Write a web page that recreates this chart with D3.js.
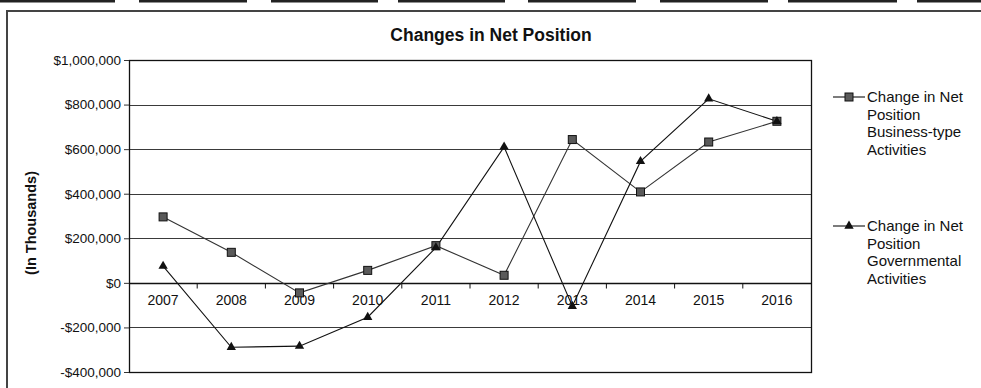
<!DOCTYPE html>
<html>
<head>
<meta charset="utf-8">
<script src="https://cdn.jsdelivr.net/npm/d3@7"></script>
<style>
  html, body { margin: 0; padding: 0; background: #fff; }
  svg { display: block; font-family: Arial, "Liberation Sans", sans-serif; }
</style>
</head>
<body>
<svg id="chart" width="981" height="388"></svg>
<script>
// Fiscal years on the category axis
const years = ["2007", "2008", "2009", "2010", "2011", "2012", "2013", "2014", "2015", "2016"];

// Change in net position, in thousands of dollars
const businessType = [296000, 137000, -45000, 56000, 167000, 34000, 643000, 408000, 632000, 725000];
const governmental = [75000, -289000, -284000, -154000, 158000, 610000, -105000, 545000, 826000, 725000];

// Value axis ticks
const yTicks = [1000000, 800000, 600000, 400000, 200000, 0, -200000, -400000];

const seriesNames = [
  ["Change in Net", "Position", "Business-type", "Activities"],
  ["Change in Net", "Position", "Governmental", "Activities"]
];

const svg = d3.select("#chart");
const plot = { left: 129, right: 811, top: 60, bottom: 372 };

const x = d3.scaleBand().domain(years).range([plot.left, plot.right]);
const y = d3.scaleLinear().domain([-400000, 1000000]).range([plot.bottom, plot.top]);

// Page rules left over from the table above the chart
const ruleSegs = [[0, 115], [139, 247], [271, 378], [398, 505], [528, 636], [660, 768], [788, 897], [917, 981]];
svg.append("g").selectAll("rect").data(ruleSegs).join("rect")
  .attr("x", d => d[0]).attr("y", 0)
  .attr("width", d => d[1] - d[0]).attr("height", 2.5)
  .attr("fill", "#222");

// Outer chart frame
svg.append("path")
  .attr("d", "M7,400 L7,11 L990,11")
  .attr("fill", "none").attr("stroke", "#444").attr("stroke-width", 2);

// Title
svg.append("text")
  .attr("x", 491).attr("y", 41)
  .attr("text-anchor", "middle")
  .attr("font-size", 17.5).attr("font-weight", "bold")
  .attr("fill", "#111")
  .text("Changes in Net Position");

// Horizontal gridlines
svg.append("g").selectAll("line")
  .data(yTicks.filter(v => v !== 0 && v !== 1000000 && v !== -400000))
  .join("line")
  .attr("x1", plot.left).attr("x2", plot.right)
  .attr("y1", d => Math.round(y(d)) + 0.5).attr("y2", d => Math.round(y(d)) + 0.5)
  .attr("stroke", "#3a3a3a").attr("stroke-width", 1);

// Plot area border
svg.append("rect")
  .attr("x", plot.left + 0.5).attr("y", plot.top + 0.5)
  .attr("width", plot.right - plot.left).attr("height", plot.bottom - plot.top)
  .attr("fill", "none").attr("stroke", "#111").attr("stroke-width", 1.3);

// Value axis
const yAxis = d3.axisLeft(y)
  .tickValues(yTicks)
  .tickSize(5)
  .tickPadding(3)
  .tickFormat(v => (v < 0 ? "-$" : "$") + d3.format(",")(Math.abs(v)));
const yg = svg.append("g").attr("transform", `translate(${plot.left},0)`).call(yAxis);
yg.select(".domain").remove();
yg.selectAll(".tick line").attr("stroke", "#333");
yg.selectAll("text").attr("font-size", 13.5).attr("fill", "#111")
  .attr("font-family", "Arial, 'Liberation Sans', sans-serif");

// Category axis along the zero line
const zeroY = Math.round(y(0)) + 0.5;
svg.append("line")
  .attr("x1", plot.left).attr("x2", plot.right)
  .attr("y1", zeroY).attr("y2", zeroY)
  .attr("stroke", "#111").attr("stroke-width", 1.3);
svg.append("g").selectAll("line")
  .data(years.slice(1))
  .join("line")
  .attr("x1", d => x(d)).attr("x2", d => x(d))
  .attr("y1", zeroY).attr("y2", zeroY + 5)
  .attr("stroke", "#111");
svg.append("g").selectAll("text")
  .data(years)
  .join("text")
  .attr("x", d => x(d) + x.bandwidth() / 2)
  .attr("y", zeroY + 21)
  .attr("text-anchor", "middle")
  .attr("font-size", 14).attr("fill", "#111")
  .text(d => d);

// Value axis title
svg.append("text")
  .attr("transform", `translate(36,223) rotate(-90)`)
  .attr("text-anchor", "middle")
  .attr("font-size", 14.5).attr("font-weight", "bold").attr("fill", "#111")
  .text("(In Thousands)");

const cx = (d, i) => x(years[i]) + x.bandwidth() / 2;
const line = d3.line().x(cx).y(d => y(d));

// Series lines
svg.append("path").datum(businessType)
  .attr("d", line).attr("fill", "none").attr("stroke", "#333").attr("stroke-width", 1.1);
svg.append("path").datum(governmental)
  .attr("d", line).attr("fill", "none").attr("stroke", "#111").attr("stroke-width", 1.1);

// Markers
const tri = d3.symbol().type(d3.symbolTriangle).size(38);
function square(g, px, py) {
  g.append("rect").attr("x", px - 4).attr("y", py - 4).attr("width", 8).attr("height", 8)
    .attr("fill", "#5a5a5a").attr("stroke", "#111").attr("stroke-width", 1);
}
function triangle(g, px, py) {
  g.append("path").attr("d", tri()).attr("transform", `translate(${px},${py})`)
    .attr("fill", "#111");
}
const mg = svg.append("g");
businessType.forEach((v, i) => square(mg, cx(v, i), y(v)));
governmental.forEach((v, i) => triangle(mg, cx(v, i), y(v)));

// Legend
const legendRows = [97, 226];
seriesNames.forEach((lines, k) => {
  const ly = legendRows[k];
  const g = svg.append("g");
  g.append("line").attr("x1", 833).attr("x2", 865).attr("y1", ly).attr("y2", ly)
    .attr("stroke", "#111").attr("stroke-width", 1.1);
  if (k === 0) square(g, 849, ly); else triangle(g, 849, ly);
  lines.forEach((t, j) => {
    g.append("text").attr("x", 867).attr("y", ly + 5 + j * 17.5)
      .attr("font-size", 15).attr("fill", "#111").text(t);
  });
});
</script>
</body>
</html>
